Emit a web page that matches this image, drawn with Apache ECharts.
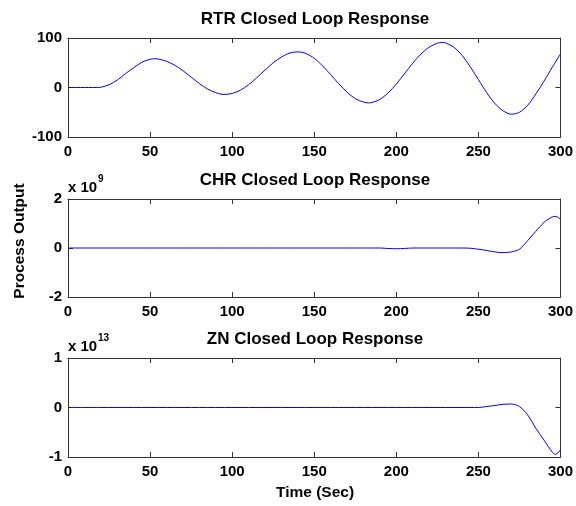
<!DOCTYPE html>
<html><head><meta charset="utf-8">
<script src="https://cdn.jsdelivr.net/npm/echarts@6/dist/echarts.min.js"></script>
<style>html,body{margin:0;padding:0;background:#fff}#c{width:576px;height:506px}</style>
</head><body><div id="c"></div><script>
// ---- data ----
const titles = ['RTR Closed Loop Response', 'CHR Closed Loop Response', 'ZN Closed Loop Response'];
const xTicks = [0, 50, 100, 150, 200, 250, 300];
const yTicksRTR = [-100, 0, 100];
const yTicksCHR = [-2, 0, 2];      // x 10^9
const yTicksZN = [-1, 0, 1];       // x 10^13
const yLabel = 'Process Output';
const xLabel = 'Time (Sec)';
const exponents = ['', '9', '13'];

const rtrTime = [0,5,10,15,18,20,25,30,35,40,45,50,53,55,60,65,70,75,80,85,90,95,100,105,110,115,120,125,130,135,140,145,150,155,160,165,170,175,180,183,185,190,195,200,205,210,215,220,225,228,230,235,240,245,250,255,260,265,270,275,280,285,290,295,300];
const rtrValue = [0,0,0,0,0,0.5,5.5,15,28,40,51,57,58,57.6,53,45,34,21,8,-3,-10.5,-14,-12,-5.5,5.5,20,35,50,61.5,69.5,72,68.5,59,44,26,7.5,-9.5,-22.5,-29.5,-31,-30.5,-24,-11,7,28,49,67.5,81.5,89.5,91,90,81.5,65,42,16,-10,-32,-47,-54,-50,-36,-13,13,41,68];

const chrTime = [0,20,40,60,80,100,120,140,160,180,190,195,200,205,210,220,230,240,245,250,255,260,265,270,275,280,285,290,295,297,300];
const chrValue = [0,0,0,0,0,0,0,0,0,0,0,-0.02,-0.03,-0.02,0,0,0,0,-0.01,-0.05,-0.1,-0.16,-0.19,-0.16,-0.05,0.3,0.68,1.05,1.27,1.29,1.18];

const znTime = [0,20,40,60,80,100,120,140,160,180,200,220,240,250,255,260,265,270,275,280,285,290,295,297,300];
const znValue = [0,0,0,0,0,0,0,0,0,0,0,0,0,0,0.02,0.04,0.065,0.07,0.02,-0.15,-0.42,-0.66,-0.9,-0.95,-0.85];

// ---- layout ----
const FONT = "'Liberation Sans', Arial, sans-serif";
const grids = [
  {left: 68, right: 14, top: 38, height: 99},
  {left: 68, right: 14, top: 199, height: 98},
  {left: 68, right: 14, top: 358, height: 99}
];
const yRanges = [yTicksRTR, yTicksCHR, yTicksZN];
const seriesData = [[rtrTime, rtrValue], [chrTime, chrValue], [znTime, znValue]];

const axisLine = {show: true, onZero: false, lineStyle: {color: '#333', width: 1}};
const tick = {show: true, inside: true, length: 5, lineStyle: {color: '#333'}};
const lab = {color: '#000', fontFamily: FONT, fontWeight: 'bold', fontSize: 15};

const xAxis = [], yAxis = [], series = [];
grids.forEach((g, i) => {
  const xmin = xTicks[0], xmax = xTicks[xTicks.length - 1], xint = xTicks[1] - xTicks[0];
  const yr = yRanges[i];
  const ymin = yr[0], ymax = yr[yr.length - 1], yint = yr[1] - yr[0];
  xAxis.push({type: 'value', gridIndex: i, position: 'bottom', min: xmin, max: xmax, interval: xint,
    axisLine, axisTick: tick, splitLine: {show: false},
    axisLabel: Object.assign({margin: 7}, lab)});
  xAxis.push({type: 'value', gridIndex: i, position: 'top', min: xmin, max: xmax, interval: xint,
    axisLine, axisTick: tick, splitLine: {show: false}, axisLabel: {show: false}});
  yAxis.push({type: 'value', gridIndex: i, position: 'left', min: ymin, max: ymax, interval: yint,
    axisLine, axisTick: tick, splitLine: {show: false},
    axisLabel: Object.assign({margin: 6}, lab)});
  yAxis.push({type: 'value', gridIndex: i, position: 'right', min: ymin, max: ymax, interval: yint,
    axisLine, axisTick: tick, splitLine: {show: false}, axisLabel: {show: false}});
  const [tt, vv] = seriesData[i];
  series.push({type: 'line', xAxisIndex: 2 * i, yAxisIndex: 2 * i, showSymbol: false, smooth: 0.3,
    lineStyle: {color: '#0000ff', width: 1}, data: tt.map((t, k) => [t, vv[k]]), animation: false});
});

const graphic = [];
const titleTops = [11, 172, 331];
titles.forEach((t, i) => {
  graphic.push({type: 'text', x: 315, y: titleTops[i], z: 10,
    style: {text: t, align: 'center', verticalAlign: 'top', fill: '#000', font: `bold 17px ${FONT}`}});
});
// exponent labels
[[1, 180], [2, 339]].forEach(([i, top]) => {
  graphic.push({type: 'text', x: 68, y: top, style: {text: 'x 10', verticalAlign: 'top', fill: '#000', font: `bold 15px ${FONT}`}});
  graphic.push({type: 'text', x: 98, y: top - 6, style: {text: exponents[i], verticalAlign: 'top', fill: '#000', font: `bold 10px ${FONT}`}});
});

const chart = echarts.init(document.getElementById('c'), null, {renderer: 'canvas'});
chart.setOption({
  animation: false,
  backgroundColor: '#fff',
  grid: grids,
  xAxis, yAxis, series,
  graphic: graphic.concat([
    {type: 'text', x: 20, y: 241, rotation: Math.PI / 2,
      style: {text: yLabel, align: 'center', verticalAlign: 'middle', fill: '#000', font: `bold 15.5px ${FONT}`}},
    {type: 'text', x: 315, y: 485,
      style: {text: xLabel, align: 'center', verticalAlign: 'top', fill: '#000', font: `bold 15.5px ${FONT}`}}
  ])
});
</script></body></html>
